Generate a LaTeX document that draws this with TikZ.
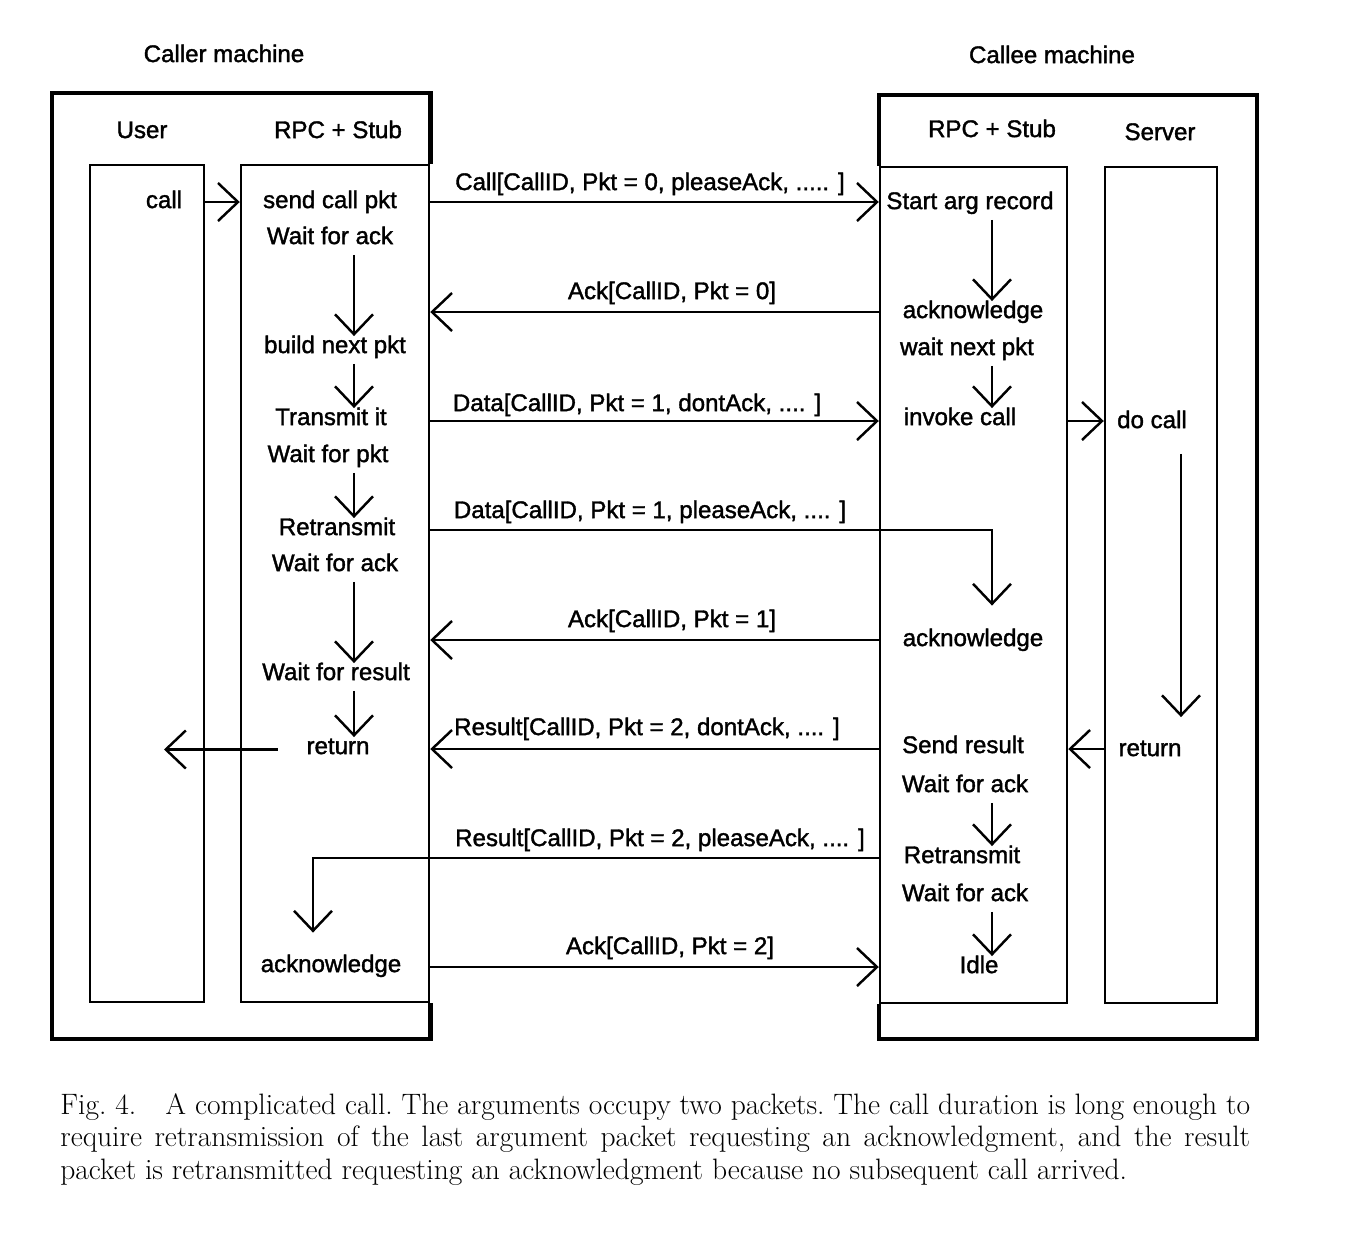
\documentclass[tikz,border=0pt]{standalone}
\usepackage{fontspec}
\newfontfamily\diagfont{Liberation Sans}[FakeBold=1.5]
\usetikzlibrary{arrows.meta, fit}

\begin{document}
\begin{tikzpicture}[x=0.02cm, y=-0.02cm,
    >={Straight Barb[length=0.4cm, width=0.76cm]},
    font=\diagfont\fontsize{13.7}{16}\selectfont,
    lane/.style={draw, line width=1.4pt, inner sep=0pt},
    machine/.style={line width=2.6pt},
    txt/.style={inner sep=0.08cm, text height=0.72em, text depth=0.2em, yshift=-0.07cm},
    flow/.style={->, line width=1.4pt},
    stepflow/.style={flow, shorten <=0.06cm}]

    \useasboundingbox (0,0) rectangle (1358,1244);

    % 1. Columns of the two machines
    \node[lane, fit={(90,165) (204,1002)}] (userbox) {};
    \node[lane, fit={(241,165) (429,1002)}] (crpc) {};
    \node[lane, fit={(880,167) (1067,1003)}] (erpc) {};
    \node[lane, fit={(1105,167) (1217,1003)}] (server) {};

    \coordinate (cbot) at (0,1039);
    \coordinate (ebot) at (0,1039);
    \draw[machine] (crpc.north east) |- (52,93) |- (crpc.south east |- cbot) -- (crpc.south east);
    \draw[machine] (erpc.north west) |- (1257,95) |- (erpc.south west |- ebot) -- (erpc.south west);

    % heights of the packets
    \foreach \n/\y in {m1/202, m2/312, m3/421, m4/530, m5/640, m6/749, m7/858, m8/967} {
        \coordinate (\n) at (0,\y);
    }

    % 2. Headings
    \node[txt] (tcaller) at (224,54) {Caller machine};
    \node[txt] (tcallee) at (1052,55) {Callee machine};
    \node[txt] (huser) at (142,130) {User};
    \node[txt] (hcrpc) at (338,130) {RPC + Stub};
    \node[txt] (herpc) at (992,129) {RPC + Stub};
    \node[txt] (hserver) at (1160,132) {Server};

    % 3. Caller side
    \node[txt] (call) at (164,200) {call};
    \node[txt] (send) at (330,200) {send call pkt};
    \node[txt] (wack1) at (330,236) {Wait for ack};
    \node[txt] (build) at (335,345) {build next pkt};
    \node[txt] (trans) at (331,417) {Transmit it};
    \node[txt] (wpkt) at (328,454) {Wait for pkt};
    \node[txt] (retr1) at (337,527) {Retransmit};
    \node[txt] (wack2) at (335,563) {Wait for ack};
    \node[txt] (wres) at (336,672) {Wait for result};
    \node[txt] (cret) at (338,746) {return};
    \node[txt] (cack) at (331,964) {acknowledge};

    \coordinate (cx) at (354,0);
    \foreach \a/\b in {wack1/build, build/trans, wpkt/retr1, wack2/wres, wres/cret} {
        \draw[stepflow] (cx |- \a.south) -- (cx |- \b.north);
    }
    \draw[flow] (userbox.east |- m1) -- (crpc.west |- m1);
    \draw[flow, shorten <=0.49cm] (cret.west) -- (call |- cret);

    % 4. Callee side
    \node[txt] (start) at (970,201) {Start arg record};
    \node[txt] (eack1) at (973,310) {acknowledge};
    \node[txt] (wnext) at (967,347) {wait next pkt};
    \node[txt] (invoke) at (960,417) {invoke call};
    \node[txt] (eack2) at (973,638) {acknowledge};
    \node[txt] (sendres) at (963,745) {Send result};
    \node[txt] (wack3) at (965,784) {Wait for ack};
    \node[txt] (retr2) at (962,855) {Retransmit};
    \node[txt] (wack4) at (965,893) {Wait for ack};
    \node[txt] (idle) at (979,965) {Idle};

    \node[txt] (docall) at (1152,420) {do call};
    \node[txt] (sret) at (1150,748) {return};

    \coordinate (ex) at (992,0);
    \foreach \a/\b in {start/eack1, wnext/invoke, wack3/retr2, wack4/idle} {
        \draw[stepflow] (ex |- \a.south) -- (ex |- \b.north);
    }
    \coordinate (sx) at (1181,0);
    \draw[flow, shorten <=0.36cm, shorten >=0.44cm] (sx |- docall.south) -- (sx |- sret.north);
    \draw[flow] (erpc.east |- m3) -- (server.west |- m3);
    \draw[flow] (server.west |- m6) -- (erpc.east |- m6);

    % 5. Packets between the machines
    \node[txt] (lcall) at (650,182) {Call[CallID, Pkt = 0, pleaseAck, ..... ]};
    \node[txt] (lack0) at (672,291) {Ack[CallID, Pkt = 0]};
    \node[txt] (ldata1) at (637,403) {Data[CallID, Pkt = 1, dontAck, .... ]};
    \node[txt] (ldata2) at (650,510) {Data[CallID, Pkt = 1, pleaseAck, .... ]};
    \node[txt] (lack1) at (672,619) {Ack[CallID, Pkt = 1]};
    \node[txt] (lres1) at (647,727) {Result[CallID, Pkt = 2, dontAck, .... ]};
    \node[txt] (lres2) at (660,838) {Result[CallID, Pkt = 2, pleaseAck, .... ]};
    \node[txt] (lack2) at (670,946) {Ack[CallID, Pkt = 2]};

    \coordinate (rx) at (313,0);
    \draw[flow] (crpc.east |- m1) -- (erpc.west |- m1);
    \draw[flow] (erpc.west |- m2) -- (crpc.east |- m2);
    \draw[flow] (crpc.east |- m3) -- (erpc.west |- m3);
    \draw[flow, shorten >=0.47cm] (crpc.east |- m4) -| (ex |- eack2.north);
    \draw[flow] (erpc.west |- m5) -- (crpc.east |- m5);
    \draw[flow] (erpc.west |- m6) -- (crpc.east |- m6);
    \draw[flow, shorten >=0.45cm] (erpc.west |- m7) -| (rx |- cack.north);
    \draw[flow] (crpc.east |- m8) -- (erpc.west |- m8);

    % 6. Caption
    \node[anchor=base west, inner sep=0pt] (caption) at (60,1114) {\normalfont\fontsize{16.8}{18.6}\selectfont\frenchspacing
        \parbox[t]{23.8cm}{Fig.~4.\quad A complicated call. The arguments occupy two packets. The call duration is long enough to\linebreak
        require retransmission of the last argument packet requesting an acknowledgment, and the result\linebreak
        packet is retransmitted requesting an acknowledgment because no subsequent call arrived.}};
\end{tikzpicture}
\end{document}
